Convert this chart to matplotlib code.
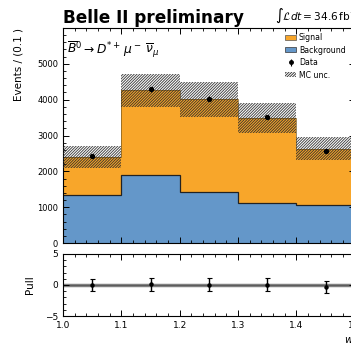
import numpy as np
import matplotlib
matplotlib.use("Agg")
import matplotlib.pyplot as plt
from matplotlib.patches import Patch
from matplotlib.ticker import MultipleLocator

# w bins and fitted yields
w_edges = [1.0, 1.1, 1.2, 1.3, 1.4, 1.5]
background = [1350, 1900, 1430, 1130, 1050]
signal = [1050, 2360, 2580, 2370, 1580]
mc_unc = [305, 470, 480, 420, 320]
data = [2430, 4290, 4030, 3520, 2560]
data_err = [49, 65, 63, 59, 51]
pull = [0.0, 0.1, 0.05, 0.05, -0.3]
pull_err = [1.0, 1.0, 1.0, 1.0, 1.0]

sig_color = "#f8a62a"
bkg_color = "#6497c9"
hatch = "/" * 12

plt.rcParams["font.family"] = ["DejaVu Sans"]
plt.rcParams["hatch.linewidth"] = 0.65

edges = np.array(w_edges)
centers = 0.5 * (edges[1:] + edges[:-1])
bkg = np.array(background)
total = bkg + np.array(signal)
unc = np.array(mc_unc)

fig = plt.figure(figsize=(3.51, 3.43), dpi=100)
ax = fig.add_axes([0.1795, 0.2915, 0.831, 0.6269])
axp = fig.add_axes([0.1795, 0.0787, 0.831, 0.1808])

ax.stairs(bkg, edges, fill=True, color=bkg_color, label="Background", zorder=1)
ax.stairs(total, edges, baseline=bkg, fill=True, color=sig_color, label="Signal", zorder=1)
ax.stairs(bkg, edges, baseline=None, color="#222222", lw=0.9, zorder=2)
ax.stairs(total, edges, baseline=None, color="#7a5a20", lw=0.5, zorder=2)
ax.stairs(total + unc, edges, baseline=total - unc, fill=True, facecolor="none",
          edgecolor="#2a2a2a", hatch=hatch, lw=0, alpha=0.9, zorder=3)
ax.errorbar(centers, data, yerr=data_err, fmt="o", color="k", ms=2.8,
            elinewidth=0.8, capsize=0, zorder=4)

ax.set_xlim(1.0, 1.5)
ax.set_ylim(0, 6000)
ax.set_yticks([0, 1000, 2000, 3000, 4000, 5000])
ax.yaxis.set_minor_locator(MultipleLocator(200))
ax.xaxis.set_major_locator(MultipleLocator(0.1))
ax.xaxis.set_minor_locator(MultipleLocator(0.02))
ax.tick_params(which="both", direction="in", top=True, right=True, labelsize=6)
ax.tick_params(which="major", length=4, width=0.7)
ax.tick_params(which="minor", length=2, width=0.6)
ax.tick_params(axis="x", labelbottom=False)
ax.set_ylabel("Events / (0.1 )", fontsize=7.5, loc="top")
ax.yaxis.set_label_coords(-0.135, 1.0)

ax.text(0.012, 0.945, r"$\overline{B}^0 \rightarrow D^{*+}\,\mu^-\,\overline{\nu}_\mu$",
        transform=ax.transAxes, fontsize=8.8, va="top", ha="left")

handles = [
    Patch(facecolor=sig_color, edgecolor="#555555", lw=0.5),
    Patch(facecolor=bkg_color, edgecolor="#333333", lw=0.5),
    ax.errorbar([], [], yerr=[], fmt="o", color="k", ms=2.5, elinewidth=0.8, capsize=1.5),
    Patch(facecolor="none", edgecolor="#333333", hatch=hatch, lw=0),
]
ax.legend(handles, ["Signal", "Background", "Data", "MC unc."], loc="upper left",
          bbox_to_anchor=(0.745, 1.0), frameon=False, fontsize=5.6,
          handlelength=1.4, handleheight=0.55, handletextpad=0.35, labelspacing=0.45,
          borderaxespad=0.25)

fig.text(0.1795, 0.933, "Belle II preliminary", fontsize=12.2, fontweight="bold",
         ha="left", va="baseline")
fig.text(0.783, 0.942, r"$\int\mathcal{L}dt = 34.6\,\mathrm{fb}^{-1}$", fontsize=7.6,
         ha="left", va="baseline")

# pull panel
axp.axhline(0, color="#808080", lw=2.5, zorder=1)
axp.axhline(0, color="#555555", lw=0.6, zorder=1)
axp.errorbar(centers, pull, yerr=pull_err, fmt="o", color="k", ms=2.2,
             elinewidth=1.0, capsize=1.8, capthick=0.8, zorder=3)
axp.set_xlim(1.0, 1.5)
axp.set_ylim(-5, 5)
axp.set_yticks([-5, 0, 5])
axp.yaxis.set_minor_locator(MultipleLocator(1))
axp.xaxis.set_major_locator(MultipleLocator(0.1))
axp.xaxis.set_minor_locator(MultipleLocator(0.02))
axp.tick_params(which="both", direction="in", top=True, right=True, labelsize=6.5)
axp.tick_params(which="major", length=4, width=0.7)
axp.tick_params(which="minor", length=2, width=0.6)
axp.set_ylabel("Pull", fontsize=7.5)
axp.yaxis.set_label_coords(-0.095, 0.5)
axp.set_xlabel(r"$w$", fontsize=7.5, loc="right")

fig.savefig("out.png", dpi=100)
